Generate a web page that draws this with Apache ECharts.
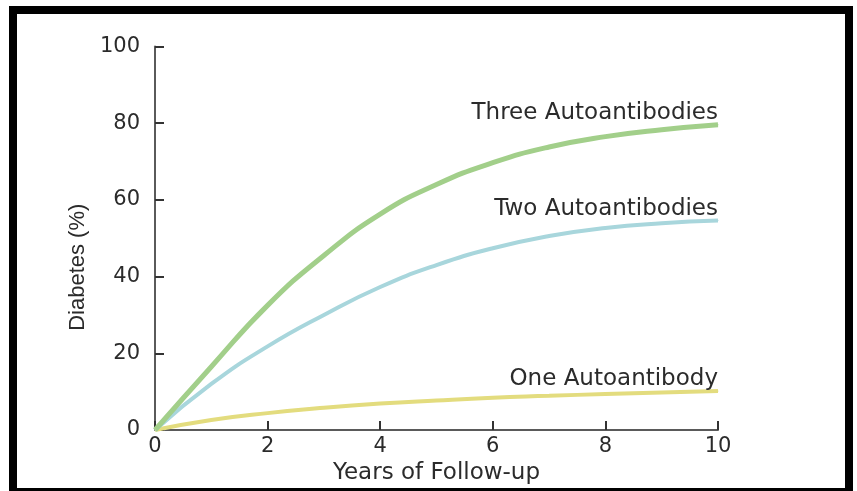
<!DOCTYPE html>
<html>
<head>
<meta charset="utf-8">
<script src="https://cdn.jsdelivr.net/npm/echarts@6/dist/echarts.min.js"></script>
<style>
  html, body { margin:0; padding:0; width:857px; height:491px; overflow:hidden; background:#fff; }
  #chart { position:absolute; left:0; top:0; width:857px; height:491px; }
  #frame { position:absolute; left:9px; top:6px; width:828px; height:474px; border:8px solid #000; pointer-events:none; }
</style>
</head>
<body>
<div id="chart"></div>
<div id="frame"></div>
<script>
const years = [0, 1, 2, 3, 4, 5, 6, 7, 8, 9, 10];
const threeAb = [0, 16.5, 32.5, 45.5, 56.3, 64, 69.7, 73.8, 76.5, 78.3, 79.6];
const twoAb = [0, 12, 21.8, 30, 37.3, 43, 47.4, 50.6, 52.7, 53.9, 54.6];
const oneAb = [0, 2.6, 4.4, 5.8, 6.9, 7.7, 8.4, 8.9, 9.4, 9.8, 10.2];
const seriesNames = ['Three Autoantibodies', 'Two Autoantibodies', 'One Autoantibody'];
const xTicks = [0, 2, 4, 6, 8, 10];
const yTicks = [0, 20, 40, 60, 80, 100];

function build(vals, name) {
  return years.map((x, i) => {
    const item = { value: [x, vals[i]] };
    if (i === years.length - 1) {
      item.label = {
        show: true, formatter: name, position: 'top', align: 'right', distance: 3, offset: [0, 3],
        fontFamily: 'DejaVu Sans', fontSize: 23, color: '#2b2b2b'
      };
    }
    return item;
  });
}

const chart = echarts.init(document.getElementById('chart'), null, { renderer: 'canvas' });
const axisCol = '#5a5a5a';
chart.setOption({
  backgroundColor: '#fff',
  animation: false,
  grid: { left: 155, right: 139, top: 46.5, bottom: 61 },
  xAxis: {
    type: 'value', min: xTicks[0], max: xTicks[xTicks.length - 1], interval: 2,
    name: 'Years of Follow-up', nameLocation: 'middle', nameGap: 24,
    nameTextStyle: { fontFamily: 'DejaVu Sans', fontSize: 23, color: '#2b2b2b' },
    axisLine: { show: true, lineStyle: { color: axisCol, width: 2 } },
    axisTick: { show: true, inside: true, length: 9, lineStyle: { color: '#333', width: 2 } },
    axisLabel: { fontFamily: 'DejaVu Sans', fontSize: 21, color: '#2b2b2b', margin: 6 },
    splitLine: { show: false }
  },
  yAxis: {
    type: 'value', min: yTicks[0], max: yTicks[yTicks.length - 1], interval: 20,
    name: 'Diabetes (%)', nameLocation: 'middle', nameGap: 60, nameRotate: 90,
    nameTextStyle: { fontFamily: 'Liberation Sans', fontSize: 22, color: '#2b2b2b', padding: [0, 58, 0, 0] },
    axisLine: { show: true, lineStyle: { color: axisCol, width: 2 } },
    axisTick: { show: true, inside: true, length: 9, lineStyle: { color: '#333', width: 2 } },
    axisLabel: { fontFamily: 'DejaVu Sans', fontSize: 21, color: '#2b2b2b', margin: 15 },
    splitLine: { show: false }
  },
  series: [
    { name: seriesNames[2], type: 'line', smooth: true, data: build(oneAb, seriesNames[2]),
      symbol: 'circle', symbolSize: 1, itemStyle: { color: '#e3dc7e' },
      lineStyle: { color: '#e3dc7e', width: 4 } },
    { name: seriesNames[1], type: 'line', smooth: true, data: build(twoAb, seriesNames[1]),
      symbol: 'circle', symbolSize: 1, itemStyle: { color: '#a8d6dc' },
      lineStyle: { color: '#a8d6dc', width: 4 } },
    { name: seriesNames[0], type: 'line', smooth: true, data: build(threeAb, seriesNames[0]),
      symbol: 'circle', symbolSize: 1, itemStyle: { color: '#a2cf8a' },
      lineStyle: { color: '#a2cf8a', width: 5 } }
  ]
});
</script>
</body>
</html>
